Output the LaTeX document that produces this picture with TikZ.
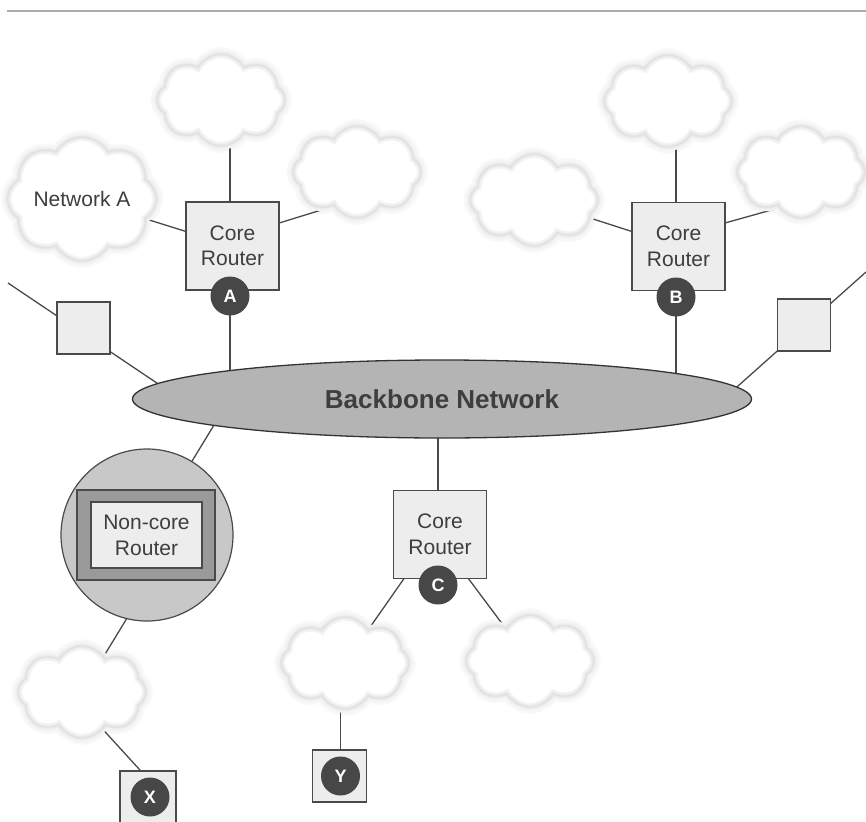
\documentclass[tikz,border=0pt]{standalone}
\usepackage{fontspec}
\setmainfont{Liberation Sans}
\usetikzlibrary{shapes.symbols,shapes.geometric,backgrounds}
\definecolor{ink}{HTML}{3E3E3E}
\definecolor{edge}{HTML}{4A4A4A}
\definecolor{boxfill}{HTML}{EDEDED}
\definecolor{bbfill}{HTML}{B4B4B4}
\definecolor{ncfill}{HTML}{C8C8C8}
\definecolor{ncframe}{HTML}{9A9A9A}
\definecolor{dot}{HTML}{474747}
\tikzset{
  cloudgeom/.style={cloud, cloud puffs=8, cloud puff arc=120, aspect=1.35,
    minimum width=128pt, minimum height=92pt, inner sep=0pt,
    font=\fontsize{21}{25}\selectfont},
  softcloud/.style={cloudgeom, fill=white, text=ink,
    postaction={draw=gray!8, line width=8pt},
    postaction={draw=gray!13, line width=5pt},
    postaction={draw=gray!19, line width=2.5pt},
    postaction={draw=gray!24, line width=0.8pt}},
  cloudhalo/.style={cloudgeom, draw=gray!5, line width=13pt,
    preaction={draw=gray!5, line width=13pt},
    postaction={draw=gray!9, line width=9pt}},
  corebox/.style={draw=edge, fill=boxfill, line width=1.3pt, text=ink,
    minimum width=93pt, minimum height=88pt, inner sep=0pt, align=center,
    font=\fontsize{21}{25.5}\selectfont},
  tag/.style={circle, fill=dot, text=white, minimum size=39pt, inner sep=0pt,
    font=\fontsize{18}{18}\bfseries\selectfont},
  plainbox/.style={draw=edge, fill=boxfill, line width=1.3pt,
    minimum width=53pt, minimum height=52pt, inner sep=0pt},
  backbone/.style={ellipse, draw=black!80, fill=bbfill, line width=1.3pt,
    minimum width=619pt, minimum height=78pt, inner sep=0pt, text=ink,
    font=\fontsize{26}{26}\bfseries\selectfont},
  link/.style={draw=edge, line width=1.3pt}
}
\begin{document}
\begin{tikzpicture}[x=1pt,y=-1pt]
\useasboundingbox (0,0) rectangle (866,821);
% top rule
\draw[gray!65, line width=2pt] (7,11) -- (866,11);

% clouds
\node[softcloud] (cTA) at (221,100) {};
\node[softcloud] (cRA) at (357,172) {};
\node[softcloud] (netA) at (82,199) {Network A};
\node[softcloud] (cTB) at (668,101) {};
\node[softcloud] (cLB) at (534,200) {};
\node[softcloud] (cRB) at (801,172) {};
\node[softcloud] (cCL) at (345,663) {};
\node[softcloud] (cCR) at (530,661) {};
\node[softcloud] (cBL) at (82,692) {};

% backbone
\node[backbone] (bb) at (442,399) {Backbone Network};

% core routers
\node[corebox] (bA) at (232.5,246) {Core\\Router};
\node[tag] (cA) at (230,296) {A};
\node[corebox] (bB) at (678.5,246.5) {Core\\Router};
\node[tag] (cB) at (676,297) {B};
\node[corebox] (bC) at (440,534.5) {Core\\Router};
\node[tag] (cC) at (438,585) {C};

% plain squares
\node[plainbox] (sqL) at (83.5,328) {};
\node[plainbox] (sqR) at (804,325) {};

% non-core router
\node[circle, draw=edge, fill=ncfill, line width=1.2pt, minimum size=172pt, inner sep=0pt] (nc) at (147,535) {};
\node[draw=edge, fill=ncframe, line width=1.2pt, minimum width=138pt, minimum height=90pt, inner sep=0pt] (ncf) at (146,535) {};
\node[draw=edge, fill=boxfill, line width=1.2pt, minimum width=111pt, minimum height=66pt, inner sep=0pt, align=center, text=ink, font=\fontsize{21}{26}\selectfont] (ncr) at (146.5,535) {Non-core\\Router};

% end hosts
\node[plainbox, minimum width=56pt, minimum height=52pt] (xb) at (148,797) {};
\node[tag] (xt) at (150,797) {X};
\node[plainbox, minimum width=54pt, minimum height=52pt] (yb) at (339.5,776) {};
\node[tag] (yt) at (340.5,776) {Y};

% helper coordinates for connector ends
\coordinate (ar1) at (250,232);
\coordinate (ar2) at (357,199);
\coordinate (br1) at (700,230);
\coordinate (br2) at (800,202);
\coordinate (l1) at (8,283);
\coordinate (l2) at (200,412);
\coordinate (r1) at (866,272);
\coordinate (r2) at (720,402);
\coordinate (e1) at (225,407);
\coordinate (n2) at (135,605);
\coordinate (x1) at (76,700);
\coordinate (x2) at (150,781);
\coordinate (c1) at (410,570);
\coordinate (c2) at (462,570);

\begin{scope}[on background layer]
\fill[white] (0,0) rectangle (866,821);
% soft halos of the clouds, under the connectors
\foreach \c in {cTA,cRA,cTB,cLB,cRB,cCL,cCR,cBL}
  \node[cloudhalo] (h\c) at (\c.center) {};
\node[cloudhalo] (hnetA) at (netA.center) {\phantom{Network A}};
% connectors
\draw[link] (netA.center) -- (bA.center);
\draw[link] (cA.center) -- (cA.center |- cTA.center);
\draw[link] (cA.center) -- (cA.center |- bb.center);
\draw[link] (ar1) -- (ar2);
\draw[link] (cLB.center) -- (bB.center);
\draw[link] (cB.center) -- (cB.center |- cTB.center);
\draw[link] (cB.center) -- (cB.center |- bb.center);
\draw[link] (br1) -- (br2);
\draw[link] (l1) -- (l2);
\draw[link] (r1) -- (r2);
\draw[link] (nc.center) -- (e1);
\draw[link] (cBL.center) -- (n2);
\draw[link] (x1) -- (x2);
\draw[link] (cC.center) -- (cC.center |- bb.center);
\draw[link] (cCL.center) -- (c1);
\draw[link] (cCR.center) -- (c2);
\draw[link] (yt.center) -- (yt.center |- cCL.center);
\end{scope}
\end{tikzpicture}
\end{document}
